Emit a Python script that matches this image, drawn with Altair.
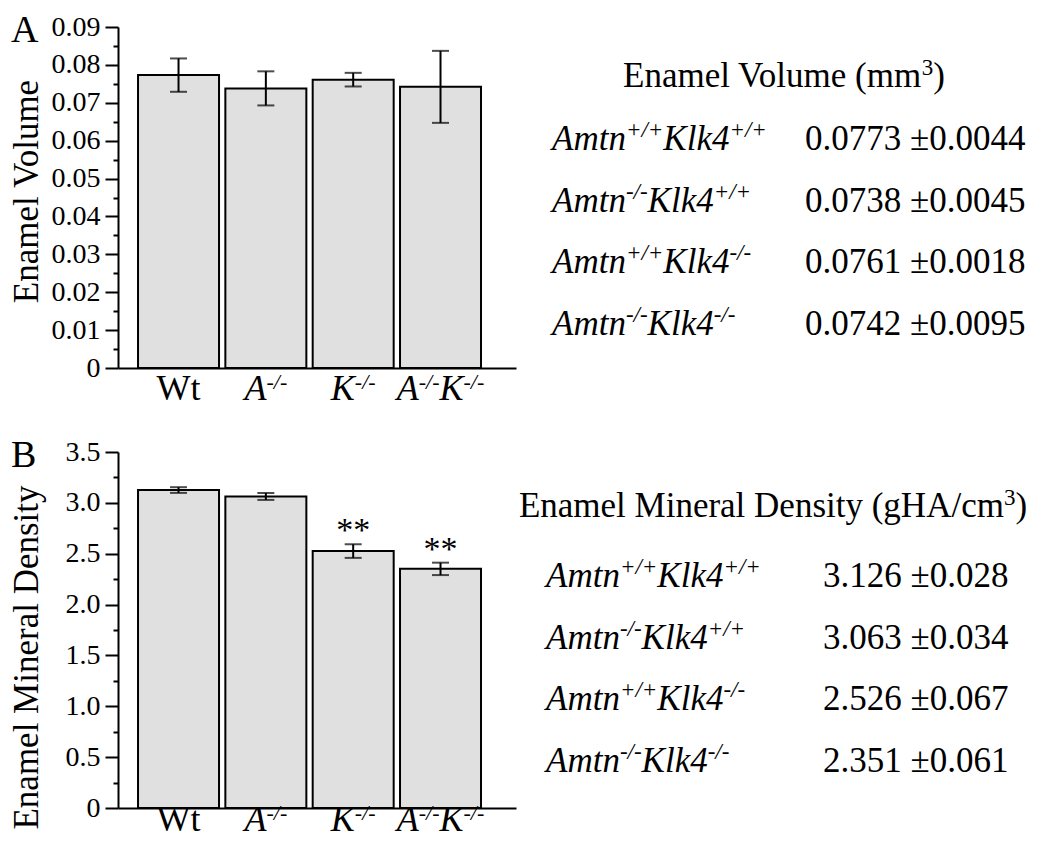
import altair as alt
import pandas as pd

# ---------------- data ----------------
genotypes = ["Wt", "A-/-", "K-/-", "A-/-K-/-"]
label_main = [["Wt"], ["A"], ["K"], ["A", "K"]]
label_sup = [[""], ["-/-"], ["-/-"], ["-/-", "-/-"]]

volume_mean = [0.0773, 0.0738, 0.0761, 0.0742]
volume_sd = [0.0044, 0.0045, 0.0018, 0.0095]
volume_sig = ["", "", "", ""]

density_mean = [3.126, 3.063, 2.526, 2.351]
density_sd = [0.028, 0.034, 0.067, 0.061]
density_sig = ["", "", "**", "**"]

volume_ticks = [0, 0.01, 0.02, 0.03, 0.04, 0.05, 0.06, 0.07, 0.08, 0.09]
volume_minor = [0.005, 0.015, 0.025, 0.035, 0.045, 0.055, 0.065, 0.075, 0.085]
density_ticks = [0, 0.5, 1.0, 1.5, 2.0, 2.5, 3.0, 3.5]
density_minor = [0.25, 0.75, 1.25, 1.75, 2.25, 2.75, 3.25]

amtn_sup = ["+/+", "-/-", "+/+", "-/-"]
klk4_sup = ["+/+", "+/+", "-/-", "-/-"]
volume_text = ["0.0773 ±0.0044", "0.0738 ±0.0045", "0.0761 ±0.0018", "0.0742 ±0.0095"]
density_text = ["3.126 ±0.028", "3.063 ±0.034", "2.526 ±0.067", "2.351 ±0.061"]
volume_heading = ["Enamel Volume (mm", "3", ")"]
density_heading = ["Enamel Mineral Density (gHA/cm", "3", ")"]

# ---------------- style ----------------
FONT = "Liberation Serif"
BAR_FILL = "#e0e0e0"
LBL, LBL_SUP = 36, 22
TBL, TBL_SUP = 35, 23
PLOT_W = 398
PAD_IN, PAD_OUT, ALIGN = 0.0725, 0.315, 0.364
STEP = PLOT_W / (len(genotypes) - PAD_IN + 2 * PAD_OUT)
HALF_BAND = STEP * (1 - PAD_IN) / 2

# Times-compatible advance widths (em) used to lay out superscript pieces
RG = {"W": 0.944, "t": 0.278, "E": 0.611, "n": 0.5, "a": 0.444, "m": 0.778,
      "e": 0.444, "l": 0.278, " ": 0.25, "V": 0.722, "o": 0.5, "u": 0.5,
      "(": 0.333, ")": 0.333, "M": 0.889, "i": 0.278, "r": 0.333, "D": 0.722,
      "s": 0.389, "y": 0.5, "g": 0.5, "H": 0.722, "A": 0.722, "/": 0.278,
      "c": 0.444, "3": 0.5}
IT = {"A": 0.611, "K": 0.667, "m": 0.722, "t": 0.278, "n": 0.5, "l": 0.278,
      "k": 0.444, "4": 0.5, "+": 0.675, "-": 0.333, "/": 0.278}
KERN = {"Vo": -0.13}


def width(s, size, italic):
    t = IT if italic else RG
    w = sum(t.get(c, 0.5) for c in s)
    if not italic:
        w += sum(KERN.get(s[i:i + 2], 0) for i in range(len(s) - 1))
    return w * size


def label_segments():
    rows = []
    for g, mains, sups in zip(genotypes, label_main, label_sup):
        italic = g != "Wt"
        pieces = []
        for m, s in zip(mains, sups):
            pieces.append((m, "main"))
            if s:
                pieces.append((s, "sup"))
        ws = [width(t, LBL if k == "main" else LBL_SUP, italic or k == "sup") for t, k in pieces]
        x = HALF_BAND - sum(ws) / 2
        for (t, k), w in zip(pieces, ws):
            rows.append(dict(genotype=g, text=t, kind=k, ital=italic, off=x, base=0))
            x += w
    return pd.DataFrame(rows)


def bar_panel(means, sds, sigs, ticks, minor, dom, fmt, minor_test, title,
              letter, height, title_y, label_dy):
    df = pd.DataFrame({"genotype": genotypes, "mean": means, "sd": sds, "sig": sigs})
    df["lo"] = df["mean"] - df["sd"]
    df["hi"] = df["mean"] + df["sd"]
    seg = label_segments()

    xscale = alt.Scale(domain=genotypes, paddingInner=PAD_IN, paddingOuter=PAD_OUT, align=ALIGN)
    xaxis = alt.Axis(labels=False, ticks=False, title=None, domainColor="black",
                     domainWidth=2, grid=False)
    yscale = alt.Scale(domain=dom, nice=False, zero=True)
    yaxis = alt.Axis(
        values=sorted(ticks + minor), grid=False, labelOverlap=False, labelFlush=False,
        labelExpr=f"datum.value == 0 ? '0' : (({minor_test}) ? '' : format(datum.value, '{fmt}'))",
        tickSize={"condition": {"test": minor_test, "value": 5}, "value": 13},
        tickWidth=2, tickColor="black", domainColor="black", domainWidth=2,
        labelFont=FONT, labelFontSize=28, labelColor="black", labelPadding=5,
        title=title, titleFont=FONT, titleFontSize=35, titleFontWeight="normal",
        titleColor="black", titleAngle=270, titleBaseline="alphabetic",
        titleAlign="center", titleX=-81, titleY=title_y,
    )
    X = alt.X("genotype:N", scale=xscale, axis=xaxis)

    bars = alt.Chart(df).mark_bar(fill=BAR_FILL, stroke="black", strokeWidth=2).encode(
        x=X, y=alt.Y("mean:Q", scale=yscale, axis=yaxis))
    err = alt.Chart(df).mark_rule(color="black", strokeWidth=2).encode(
        x=X, y=alt.Y("lo:Q", scale=yscale, axis=yaxis), y2="hi:Q")
    cap_lo = alt.Chart(df).mark_tick(color="black", size=17, thickness=2).encode(
        x=X, y=alt.Y("lo:Q", scale=yscale, axis=yaxis))
    cap_hi = alt.Chart(df).mark_tick(color="black", size=17, thickness=2).encode(
        x=X, y=alt.Y("hi:Q", scale=yscale, axis=yaxis))
    sig = alt.Chart(df).mark_text(font=FONT, fontSize=34, color="black",
                                  baseline="alphabetic", dy=-3).encode(
        x=X, y=alt.Y("hi:Q", scale=yscale, axis=yaxis), text="sig:N")

    def seg_layer(flt, size, style, dy):
        return alt.Chart(seg).transform_filter(flt).mark_text(
            font=FONT, fontSize=size, fontStyle=style, color="black",
            align="left", baseline="alphabetic", dy=dy).encode(
            x=X, xOffset=alt.XOffset("off:Q", scale=None),
            y=alt.Y("base:Q", scale=yscale, axis=yaxis), text="text:N")

    lab_reg = seg_layer("datum.kind == 'main' && !datum.ital", LBL, "normal", label_dy)
    lab_it = seg_layer("datum.kind == 'main' && datum.ital", LBL, "italic", label_dy)
    lab_sup = seg_layer("datum.kind == 'sup'", LBL_SUP, "italic", label_dy - 11)

    let = alt.Chart(pd.DataFrame({"t": [letter]})).mark_text(
        font=FONT, fontSize=38, color="black", align="left", baseline="alphabetic").encode(
        text="t:N", x=alt.value(-107), y=alt.value(15))

    return alt.layer(bars, err, cap_lo, cap_hi, sig, lab_reg, lab_it, lab_sup, let).properties(
        width=PLOT_W, height=height)


def table_segments(x0):
    rows = []
    for i, (a, k) in enumerate(zip(amtn_sup, klk4_sup)):
        x = x0
        for t, kind in [("Amtn", "main"), (a, "sup"), ("Klk4", "main"), (k, "sup")]:
            rows.append(dict(row=i, text=t, kind=kind, px=x))
            x += width(t, TBL if kind == "main" else TBL_SUP, True)
    return pd.DataFrame(rows)


def heading_segments(parts, cx):
    kinds = ["main", "sup", "main"]
    ws = [width(t, TBL if k == "main" else TBL_SUP, False) for t, k in zip(parts, kinds)]
    x = cx - sum(ws) / 2
    rows = []
    for t, k, w in zip(parts, kinds, ws):
        rows.append(dict(text=t, kind=k, px=x))
        x += w
    return pd.DataFrame(rows)


def table_panel(heading, values, x_lab, x_val, head_x, head_y, y0, y1, height):
    seg = table_segments(x_lab)
    hseg = heading_segments(heading, head_x)
    yq = alt.Y("row:Q", scale=alt.Scale(domain=[0, 3], range=[y0, y1]), axis=None)
    xq = alt.X("px:Q", scale=None, axis=None)
    head = alt.Chart(hseg).transform_filter("datum.kind == 'main'").mark_text(
        font=FONT, fontSize=TBL, color="black", align="left", baseline="alphabetic").encode(
        text="text:N", x=xq, y=alt.value(head_y))
    head_sup = alt.Chart(hseg).transform_filter("datum.kind == 'sup'").mark_text(
        font=FONT, fontSize=TBL_SUP, color="black", align="left", baseline="alphabetic").encode(
        text="text:N", x=xq, y=alt.value(head_y - 12))
    mains = alt.Chart(seg).transform_filter("datum.kind == 'main'").mark_text(
        font=FONT, fontSize=TBL, fontStyle="italic", color="black",
        align="left", baseline="alphabetic").encode(x=xq, y=yq, text="text:N")
    sups = alt.Chart(seg).transform_filter("datum.kind == 'sup'").mark_text(
        font=FONT, fontSize=TBL_SUP, fontStyle="italic", color="black",
        align="left", baseline="alphabetic", dy=-13).encode(x=xq, y=yq, text="text:N")
    vals = alt.Chart(pd.DataFrame({"row": list(range(len(values))), "t": values})).mark_text(
        font=FONT, fontSize=TBL, color="black", align="left", baseline="alphabetic").encode(
        x=alt.value(x_val), y=yq, text="t:N")
    return alt.layer(head, head_sup, mains, sups, vals).properties(width=480, height=height)


barA = bar_panel(volume_mean, volume_sd, volume_sig, volume_ticks, volume_minor,
                 [0, 0.09], ".2f", "abs(datum.value*100 - round(datum.value*100)) > 0.01",
                 "Enamel Volume", "A", 341, 164, 32)
barB = bar_panel(density_mean, density_sd, density_sig, density_ticks, density_minor,
                 [0, 3.5], ".1f", "(datum.value*2) % 1 != 0",
                 "Enamel Mineral Density", "B", 356, 205, 23)
tabA = table_panel(volume_heading, volume_text, 36, 289, 268, 60, 123, 308, 341)
tabB = table_panel(density_heading, density_text, 30, 307, 257, 65, 135, 320, 356)

chart = alt.concat(barA, tabA, barB, tabB, columns=2,
                   spacing={"row": 84, "column": 0}, bounds="flush",
                   padding={"top": 4, "left": 0, "right": 0, "bottom": 0}
                   ).configure_view(stroke=None).properties(background="white")

chart.save("out.html", embed_options={"renderer": "svg", "actions": False})
